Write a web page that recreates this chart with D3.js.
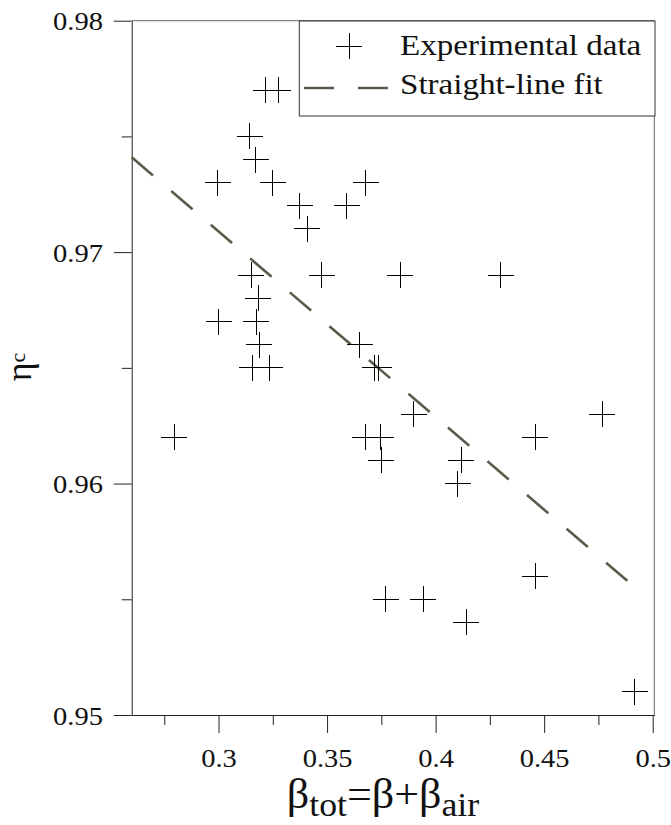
<!DOCTYPE html>
<html><head><meta charset="utf-8">
<script src="https://cdn.jsdelivr.net/npm/d3@7"></script>
<style>
html,body{margin:0;padding:0;background:#fff;}
</style></head>
<body><svg id="c" width="671" height="825" style="font-family:'Liberation Serif',serif"></svg>
<script>
// ---- data ----
const xValues = [0.2796,0.2996,0.3000,0.3151,0.3144,0.3172,0.3183,0.3174,0.3187,0.3155,0.3237,0.3217,0.3275,0.3249,0.3375,0.3408,0.3475,0.3590,0.3678,0.3650,0.3720,0.3737,0.3676,0.3747,0.3750,0.3838,0.3771,0.3942,0.3900,0.4101,0.4117,0.4142,0.4300,0.4460,0.4460,0.4768,0.4918];
const yValues = [0.962,0.973,0.967,0.969,0.975,0.974,0.968,0.967,0.966,0.965,0.965,0.977,0.977,0.973,0.972,0.971,0.969,0.972,0.973,0.966,0.965,0.965,0.962,0.962,0.961,0.969,0.955,0.955,0.963,0.960,0.961,0.954,0.969,0.962,0.956,0.963,0.951];
const fitX = [0.26, 0.4883];
const fitY = [0.9741, 0.9558];
const xTickLabels = [0.3,0.35,0.4,0.45,0.5];
const xMinorTicks = [0.275,0.325,0.375,0.425,0.475];
const yTickLabels = [0.95,0.96,0.97,0.98];
const yMinorTicks = [0.955,0.965,0.975];
const legendLabels = ["Experimental data","Straight-line fit"];

const FONT = "'Liberation Serif', 'Times New Roman', Times, serif";
const svg = d3.select("#c");
const SX = 1.14;
const x = d3.scaleLinear().domain([0.26,0.50074]).range([131.7,654.3]);
const y = d3.scaleLinear().domain([0.95,0.98]).range([715,20.7]);
const axisColor = "#222";

// frame (top & right)
svg.append("path").attr("d",`M${x.range()[0]},${y(0.98)}H${x.range()[1]}V${y(0.95)}`)
  .attr("fill","none").attr("stroke","#666").attr("stroke-width",1);

// y axis
const gy = svg.append("g").attr("transform",`translate(${x.range()[0]},0)`);
gy.call(d3.axisLeft(y).tickValues(yTickLabels).tickSize(18).tickSizeOuter(0).tickFormat(d3.format(".2f")));
gy.append("g").call(d3.axisLeft(y).tickValues(yMinorTicks).tickSize(10).tickSizeOuter(0).tickFormat(""))
  .select(".domain").remove();
gy.selectAll("text").attr("x",-25.2).attr("dy","0.36em").attr("transform",`scale(${SX},1)`)
  .attr("fill","#111");

// x axis
const gx = svg.append("g").attr("transform",`translate(0,${y(0.95)})`);
gx.call(d3.axisBottom(x).tickValues(xTickLabels).tickSize(18).tickSizeOuter(0).tickFormat(d => String(d)));
gx.append("g").call(d3.axisBottom(x).tickValues(xMinorTicks).tickSize(10).tickSizeOuter(0).tickFormat(""))
  .select(".domain").remove();
gx.selectAll("text").attr("y",51.7).attr("dy",0).attr("transform",`scale(${SX},1)`)
  .attr("fill","#111");
svg.selectAll("g").attr("font-family",null).attr("font-size",null);
svg.selectAll(".tick text").style("font-family",FONT).style("font-size","25px");
svg.selectAll(".domain, .tick line").attr("stroke",axisColor).attr("stroke-width",1);

// fit line
const fitData = fitX.map((v,i)=>[v,fitY[i]]);
svg.append("path").datum(fitData)
  .attr("d", d3.line().x(d=>x(d[0])).y(d=>y(d[1])))
  .attr("fill","none").attr("stroke","#5b5b4b").attr("stroke-width",2.6)
  .attr("stroke-dasharray","28 24");

// data crosses
const data = xValues.map((v,i)=>({x:v,y:yValues[i]}));
const half = 13;
svg.append("g").selectAll("path").data(data).join("path")
  .attr("d", d => { const cx=x(d.x), cy=y(d.y); return `M${cx-half},${cy}H${cx+half}M${cx},${cy-half}V${cy+half}`; })
  .attr("stroke","#000").attr("stroke-width",1).attr("fill","none").attr("shape-rendering","crispEdges");

// legend
const lg = svg.append("g");
lg.append("rect").attr("x",299.3).attr("y",21).attr("width",655-299.3).attr("height",95)
  .attr("fill","#fff").attr("stroke","#333").attr("stroke-width",1);
lg.append("path").attr("d",`M${349-half},46H${349+half}M349,${46-half}V${46+half}`)
  .attr("stroke","#000").attr("stroke-width",1).attr("shape-rendering","crispEdges");
lg.append("line").attr("x1",304).attr("x2",388).attr("y1",88).attr("y2",88)
  .attr("stroke","#5b5b4b").attr("stroke-width",2.6).attr("stroke-dasharray","30 24");
lg.selectAll("text").data(legendLabels).join("text")
  .attr("transform",(d,i)=>`translate(400,${i===0?55:93.5}) scale(${SX},1)`)
  .style("font-family",FONT).style("font-size","29px").attr("fill","#111").text(d=>d);

// x title
const xt = svg.append("text").attr("transform",`translate(383,808) scale(1.05,1)`)
  .attr("text-anchor","middle").attr("fill","#111").style("font-family",FONT).style("font-size","42px");
xt.append("tspan").text("β");
xt.append("tspan").style("font-size","34px").attr("dy",8).text("tot");
xt.append("tspan").attr("dy",-8).text("=β+β");
xt.append("tspan").style("font-size","34px").attr("dy",8).text("air");

// y title
const yt = svg.append("text").attr("transform","translate(31,367) rotate(-90)")
  .attr("text-anchor","middle").attr("fill","#111").style("font-family",FONT).style("font-size","36px");
yt.append("tspan").text("η");
yt.append("tspan").style("font-size","22px").attr("dy",-6).text("c");
</script>
</body></html>
